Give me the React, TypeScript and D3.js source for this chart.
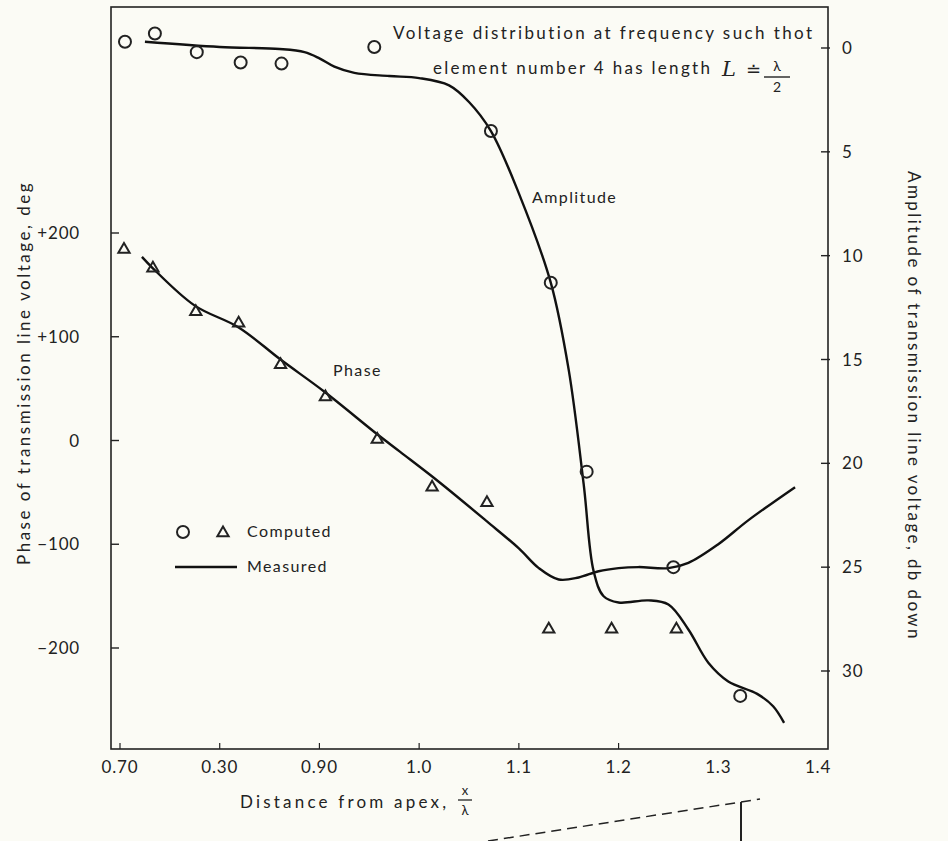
import React from 'react'
import * as d3 from 'd3'

// x positions (distance from apex, x / lambda)
const xTicks = [0.7, 0.8, 0.9, 1.0, 1.1, 1.2, 1.3, 1.4]
const xTickLabels = ['0.70', '0.30', '0.90', '1.0', '1.1', '1.2', '1.3', '1.4']
const phaseTicks = [200, 100, 0, -100, -200]
const phaseTickLabels = ['+200', '+100', '0', '\u2212100', '\u2212200']
const ampTicks = [0, 5, 10, 15, 20, 25, 30]

// computed points, circles = amplitude (db down), triangles = phase (deg)
const ampPointX = [0.705, 0.735, 0.777, 0.821, 0.862, 0.955, 1.072, 1.132, 1.168, 1.255, 1.322]
const ampPointY = [-0.3, -0.7, 0.2, 0.7, 0.75, -0.05, 4.0, 11.3, 20.4, 25.0, 31.2]
const phasePointX = [0.704, 0.733, 0.776, 0.819, 0.861, 0.906, 0.958, 1.013, 1.068, 1.13, 1.193, 1.258]
const phasePointY = [184, 166, 124, 113, 73, 42, 1, -45, -60, -182, -182, -182]

// measured curves
const ampLineX = [0.725, 0.8, 0.86, 0.885, 0.9, 0.915, 0.935, 0.97, 1.0, 1.03, 1.05, 1.072, 1.1, 1.132, 1.15, 1.165, 1.175, 1.185, 1.2, 1.23, 1.25, 1.27, 1.29, 1.31, 1.339, 1.355, 1.366]
const ampLineY = [-0.3, -0.05, 0.05, 0.2, 0.5, 0.9, 1.2, 1.35, 1.45, 1.8, 2.6, 4.0, 7.0, 11.3, 15.5, 21.0, 25.2, 26.4, 26.7, 26.6, 26.8, 28.0, 29.6, 30.5, 31.1, 31.7, 32.5]
const phaseLineX = [0.722, 0.733, 0.775, 0.819, 0.861, 0.905, 0.958, 0.981, 1.02, 1.068, 1.1, 1.12, 1.14, 1.16, 1.18, 1.2, 1.22, 1.25, 1.27, 1.3, 1.33, 1.377]
const phaseLineY = [177, 166, 130, 109, 78, 47, 6, -11, -40, -78, -104, -123, -134, -132, -126, -123, -122, -123, -118, -100, -77, -45]

const W = 948
const H = 841
const frame = { left: 111, right: 828, top: 7, bottom: 749 }
const font = 'Lato, "Noto Sans", sans-serif'

const App: React.FC = () => {
  const x = d3.scaleLinear().domain([0.7, 1.4]).range([120, 818])
  const yPhase = d3.scaleLinear().domain([200, -200]).range([233, 648])
  const yAmp = d3.scaleLinear().domain([0, 30]).range([48, 671])

  const curve = d3.curveCatmullRom.alpha(0.5)
  const ampLine = d3
    .line<number>()
    .x((d) => x(d))
    .y((_, i) => yAmp(ampLineY[i]))
    .curve(curve)
  const phaseLine = d3
    .line<number>()
    .x((d) => x(d))
    .y((_, i) => yPhase(phaseLineY[i]))
    .curve(curve)

  const tri = d3.symbol(d3.symbolTriangle, 55)

  return (
    <svg width={W} height={H} style={{ position: 'absolute', left: 0, top: 0, background: '#fbfbf5' }}>
      <rect x={0} y={0} width={W} height={H} fill="#fbfbf5" />
      <rect
        x={frame.left}
        y={frame.top}
        width={frame.right - frame.left}
        height={frame.bottom - frame.top}
        fill="none"
        stroke="#222"
        strokeWidth={1.6}
      />

      {/* bottom axis */}
      {xTicks.map((t, i) => (
        <g key={'xt' + i}>
          {i < 6 && <line x1={x(t)} x2={x(t)} y1={frame.bottom} y2={frame.bottom - 6} stroke="#222" strokeWidth={1.2} />}
          <text x={x(t)} y={frame.bottom + 24} textAnchor="middle" fontFamily={font} fontSize={17} fill="#222" letterSpacing={0.8}>
            {xTickLabels[i]}
          </text>
        </g>
      ))}
      <text x={240} y={808} fontFamily={font} fontSize={17} fill="#222" letterSpacing={3.2}>
        Distance from apex,
      </text>
      <text x={465} y={795} textAnchor="middle" fontFamily={font} fontSize={13} fill="#222">
        x
      </text>
      <line x1={458} x2={472} y1={800} y2={800} stroke="#222" strokeWidth={1.3} />
      <text x={465} y={815} textAnchor="middle" fontFamily={font} fontSize={13} fill="#222">
        λ
      </text>

      {/* left axis */}
      {phaseTicks.map((t, i) => (
        <g key={'pt' + i}>
          <line x1={frame.left} x2={frame.left + 8} y1={yPhase(t)} y2={yPhase(t)} stroke="#222" strokeWidth={1.4} />
          <text x={80} y={yPhase(t) + 6} textAnchor="end" fontFamily={font} fontSize={17} fill="#222" letterSpacing={0.8}>
            {phaseTickLabels[i]}
          </text>
        </g>
      ))}
      <text
        transform={`translate(30,373) rotate(-90)`}
        textAnchor="middle"
        fontFamily={font}
        fontSize={17}
        fill="#222"
        letterSpacing={2.5}
      >
        Phase of transmission line voltage, deg
      </text>

      {/* right axis */}
      {ampTicks.map((t, i) => (
        <g key={'at' + i}>
          <line x1={frame.right - 7} x2={frame.right + 2} y1={yAmp(t)} y2={yAmp(t)} stroke="#222" strokeWidth={1.4} />
          <text x={842} y={yAmp(t) + 6} textAnchor="start" fontFamily={font} fontSize={17} fill="#222" letterSpacing={0.8}>
            {t}
          </text>
        </g>
      ))}
      <text
        transform={`translate(908,406) rotate(90)`}
        textAnchor="middle"
        fontFamily={font}
        fontSize={17}
        fill="#222"
        letterSpacing={2.4}
      >
        Amplitude of transmission line voltage, db down
      </text>

      {/* measured curves */}
      <path d={ampLine(ampLineX) ?? ''} fill="none" stroke="#111" strokeWidth={2.4} />
      <path d={phaseLine(phaseLineX) ?? ''} fill="none" stroke="#111" strokeWidth={2.4} />

      {/* computed points */}
      {ampPointX.map((v, i) => (
        <circle key={'c' + i} cx={x(v)} cy={yAmp(ampPointY[i])} r={6} fill="none" stroke="#222" strokeWidth={2} />
      ))}
      {phasePointX.map((v, i) => (
        <path
          key={'t' + i}
          d={tri() ?? ''}
          transform={`translate(${x(v)},${yPhase(phasePointY[i])})`}
          fill="none"
          stroke="#222"
          strokeWidth={2}
        />
      ))}

      {/* annotations */}
      <text x={532} y={203} fontFamily={font} fontSize={16} fill="#222" letterSpacing={1.4}>Amplitude</text>
      <text x={333} y={376} fontFamily={font} fontSize={16} fill="#222" letterSpacing={1.4}>Phase</text>
      <text x={393} y={39} fontFamily={font} fontSize={17} fill="#222" letterSpacing={2.4}>
        Voltage distribution at frequency such thot
      </text>
      <text x={433} y={74} fontFamily={font} fontSize={17} fill="#222" letterSpacing={2.3}>
        element number 4 has length
      </text>
      <text x={722} y={76} fontFamily='"DejaVu Serif", serif' fontStyle="italic" fontSize={21} fill="#222">
        L
      </text>
      <text x={746} y={76} fontFamily='"DejaVu Sans", sans-serif' fontSize={18} fill="#222">
        ≐
      </text>
      <text x={777} y={71} textAnchor="middle" fontFamily={font} fontSize={14} fill="#222">λ</text>
      <line x1={764} x2={790} y1={77} y2={77} stroke="#222" strokeWidth={1.4} />
      <text x={777} y={92} textAnchor="middle" fontFamily={font} fontSize={14} fill="#222">2</text>

      {/* legend */}
      <circle cx={183} cy={532} r={6} fill="none" stroke="#222" strokeWidth={2} />
      <path d={tri() ?? ''} transform="translate(223,533)" fill="none" stroke="#222" strokeWidth={2} />
      <text x={247} y={537} fontFamily={font} fontSize={16} fill="#222" letterSpacing={1.4}>Computed</text>
      <line x1={175} x2={237} y1={567} y2={567} stroke="#111" strokeWidth={2.4} />
      <text x={247} y={572} fontFamily={font} fontSize={16} fill="#222" letterSpacing={1.4}>Measured</text>

      {/* stray dashed mark at the page bottom */}
      <path d="M488,841 L741,802 L760,799" fill="none" stroke="#222" strokeWidth={1.5} strokeDasharray="10,6" />
      <path d="M741,802 L741,841" fill="none" stroke="#222" strokeWidth={2} />
    </svg>
  )
}

export default App
